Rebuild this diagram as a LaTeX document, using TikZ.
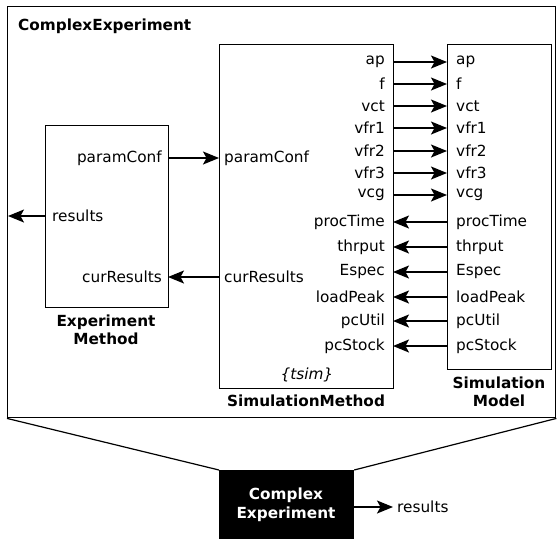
\documentclass[tikz,border=0pt]{standalone}
\usepackage{fontspec}
\setmainfont{DejaVu Sans}
\usetikzlibrary{arrows.meta}
\begin{document}
\begin{tikzpicture}[x=1pt,y=-1pt,
  font=\fontsize{15.3}{18}\selectfont,
  boxline/.style={draw=black,line width=1.4pt},
  blockbox/.style={draw=black,line width=1.4pt,inner sep=0pt,anchor=north west,fill=white},
  arr/.style={line width=1.5pt,-{Stealth[length=16pt,width=13pt,inset=3.5pt]}},
  plain/.style={line width=1.2pt},
  portL/.style={anchor=west,inner sep=0pt},
  portR/.style={anchor=east,inner sep=0pt},
  blocklabel/.style={font=\fontsize{15.3}{18.5}\selectfont\bfseries,align=center,inner sep=0pt}]
\useasboundingbox (0,0) rectangle (558,539);
% outer box
\node[blockbox,minimum width=548pt,minimum height=411pt] (outer) at (7,6) {};
\node[anchor=west,inner sep=0pt,font=\fontsize{15.3}{18}\selectfont\bfseries] (title) at (18,26) {ComplexExperiment};
% Experiment Method
\node[blockbox,minimum width=123pt,minimum height=182pt] (em) at (45,125) {};
\node[blocklabel] (emlab) at (106,330) {Experiment\\Method};
% Simulation Method
\node[blockbox,minimum width=174pt,minimum height=344pt] (sm) at (219,44) {};
\node[blocklabel] (smlab) at (306,401) {SimulationMethod};
\node[inner sep=0pt,font=\fontsize{15.3}{18}\selectfont\itshape] (tsim) at (307,375) {\{tsim\}};
% Simulation Model
\node[blockbox,minimum width=104pt,minimum height=325pt] (md) at (447,44) {};
\node[blocklabel] (mdlab) at (499,392) {Simulation\\Model};
% EM ports
\node[portR] (em-pc) at (162,158) {paramConf};
\node[portL] (em-res) at (52,216) {results};
\node[portR] (em-cur) at (162,277) {curResults};
\coordinate (em-pc-o) at (168,158);
\coordinate (em-res-o) at (45,216);
\coordinate (em-cur-i) at (168,277);
\coordinate (outer-res) at (8,216);
% SM left ports
\node[portL] (sm-pc) at (224,158) {paramConf};
\node[portL] (sm-cur) at (224,277) {curResults};
\coordinate (sm-pc-i) at (219,158);
\coordinate (sm-cur-o) at (219,277);
\draw[arr] (em-pc-o) -- (sm-pc-i);
\draw[arr] (sm-cur-o) -- (em-cur-i);
\draw[arr] (em-res-o) -- (outer-res);
% inputs to model
\foreach \n/\y in {ap/62,f/84,vct/106,vfr1/128,vfr2/151,vfr3/173,vcg/195}{
  \node[portR] (smo-\n) at (385,\y) {\n};
  \node[portL] (mdi-\n) at (456,\y) {\n};
  \coordinate (a-\n) at (393,\y);
  \coordinate (b-\n) at (447,\y);
  \draw[arr] (a-\n) -- (b-\n);
}
% outputs from model
\foreach \n/\y in {procTime/222,thrput/247,Espec/272,loadPeak/297,pcUtil/321,pcStock/346}{
  \node[portR] (smo-\n) at (385,\y) {\n};
  \node[portL] (mdi-\n) at (456,\y) {\n};
  \coordinate (a-\n) at (393,\y);
  \coordinate (b-\n) at (447,\y);
  \draw[arr] (b-\n) -- (a-\n);
}
% black block
\node[anchor=north west,fill=black,draw=black,line width=1.2pt,minimum width=134pt,minimum height=80pt,inner sep=0pt] (ce) at (219,470) {};
\node[blocklabel,text=white] (celab) at (286,505) {Complex\\Experiment};
\draw[plain] (outer.south west) -- (ce.north west);
\draw[plain] (ce.north east) -- (outer.south east);
\coordinate (ce-res) at (353,507);
\coordinate (res-end) at (393,507);
\draw[arr] (ce-res) -- (res-end);
\node[portL] (reslab) at (397,507) {results};
\end{tikzpicture}
\end{document}
